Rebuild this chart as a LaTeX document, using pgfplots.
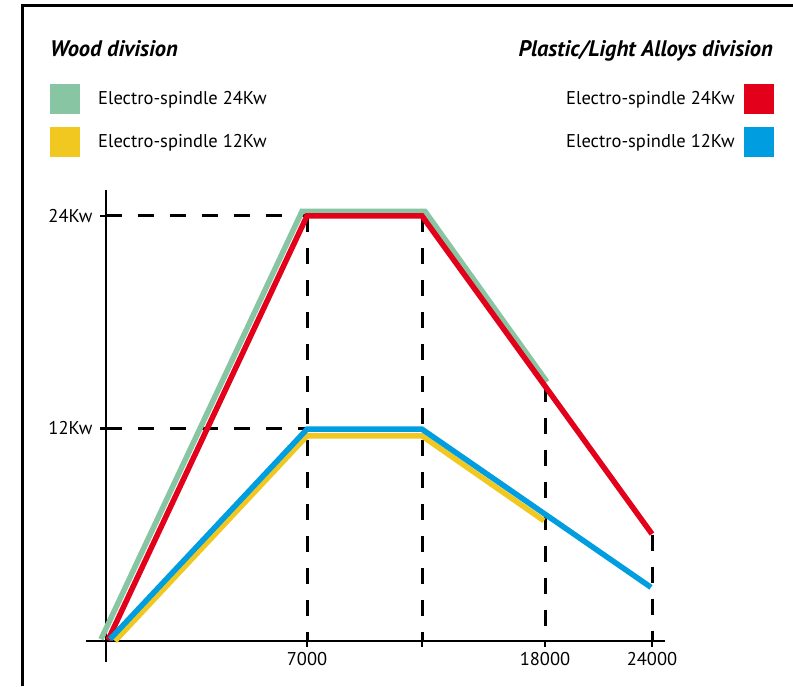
\documentclass[border=0pt]{standalone}
\usepackage{pgfplots}
\pgfplotsset{compat=1.18}
\usepackage{fontspec}
\setmainfont{PT Sans}
\definecolor{woodgreen}{RGB}{136,197,163}
\definecolor{woodyellow}{RGB}{240,200,32}
\definecolor{plred}{RGB}{226,0,26}
\definecolor{plblue}{RGB}{0,158,224}
\begin{document}
\begin{tikzpicture}[x=1pt,y=1pt]
% frame, cut at right and bottom
\draw[line width=3pt] (22,0) -- (22,680) -- (793,680);
\begin{axis}[
  at={(86pt,24pt)}, anchor=south west, scale only axis,
  width=579pt, height=472pt,
  xmin=-20, xmax=559, ymin=-1.186, ymax=25.468,
  axis lines=middle, axis line style={-, line width=2.8pt},
  clip=false,
  xtick={201,316,439,546}, xticklabels={7000,,18000,24000},
  ytick={12,24}, yticklabels={12Kw,24Kw},
  tick align=outside, major tick length=6pt,
  tick style={black, line width=2.8pt},
  ticklabel style={font=\fontsize{18.5}{22}\selectfont},
  xticklabel style={yshift=-2pt},
  yticklabel style={xshift=-4pt},
]
% guide lines
\addplot[black, line width=3pt, dash pattern=on 16pt off 16pt] coordinates {(0,24) (201,24)};
\addplot[black, line width=3pt, dash pattern=on 16pt off 16pt] coordinates {(0,12) (201,12)};
\addplot[black, line width=3pt, dash pattern=on 16pt off 16pt] coordinates {(201,24) (201,0)};
\addplot[black, line width=3pt, dash pattern=on 16pt off 16pt] coordinates {(316,24) (316,0)};
\addplot[black, line width=3pt, dash pattern=on 16pt off 16pt] coordinates {(439,14.4) (439,0)};
\addplot[black, line width=3pt, dash pattern=on 16pt off 16pt] coordinates {(546,6) (546,0)};
% wood division
\addplot[woodgreen, line width=5.5pt] coordinates {(-5,0.1) (196,24.26) (319,24.26) (441,14.63)};
\addplot[woodyellow, line width=5.5pt] coordinates {(9,0) (201,11.58) (316,11.58) (438,6.79)};
% plastic / light alloys division
\addplot[plred, line width=5.5pt] coordinates {(2,0.05) (201,24) (316,24) (546,6.04)};
\addplot[plblue, line width=5.5pt] coordinates {(4,0.1) (201,11.96) (316,11.96) (545,3.03)};
\end{axis}
% titles and legends
\node[anchor=base west, inner sep=0pt, font=\fontsize{22.5}{26}\selectfont\bfseries\itshape] at (50,629.3) {Wood division};
\node[anchor=base east, inner sep=0pt, font=\fontsize{22.5}{26}\selectfont\bfseries\itshape] at (773,629.3) {Plastic/Light Alloys division};
\fill[woodgreen] (50,572) rectangle (80,602);
\fill[woodyellow] (50,529) rectangle (80,559);
\fill[plred] (744,572) rectangle (774,602);
\fill[plblue] (744,529) rectangle (774,559);
\node[anchor=base west, inner sep=0pt, font=\fontsize{18.5}{22}\selectfont] at (98,581) {Electro-spindle 24Kw};
\node[anchor=base west, inner sep=0pt, font=\fontsize{18.5}{22}\selectfont] at (98,538) {Electro-spindle 12Kw};
\node[anchor=base east, inner sep=0pt, font=\fontsize{18.5}{22}\selectfont] at (735,581) {Electro-spindle 24Kw};
\node[anchor=base east, inner sep=0pt, font=\fontsize{18.5}{22}\selectfont] at (735,538) {Electro-spindle 12Kw};
\pgfresetboundingbox
\useasboundingbox (0,0) rectangle (793,686);
\end{tikzpicture}
\end{document}
